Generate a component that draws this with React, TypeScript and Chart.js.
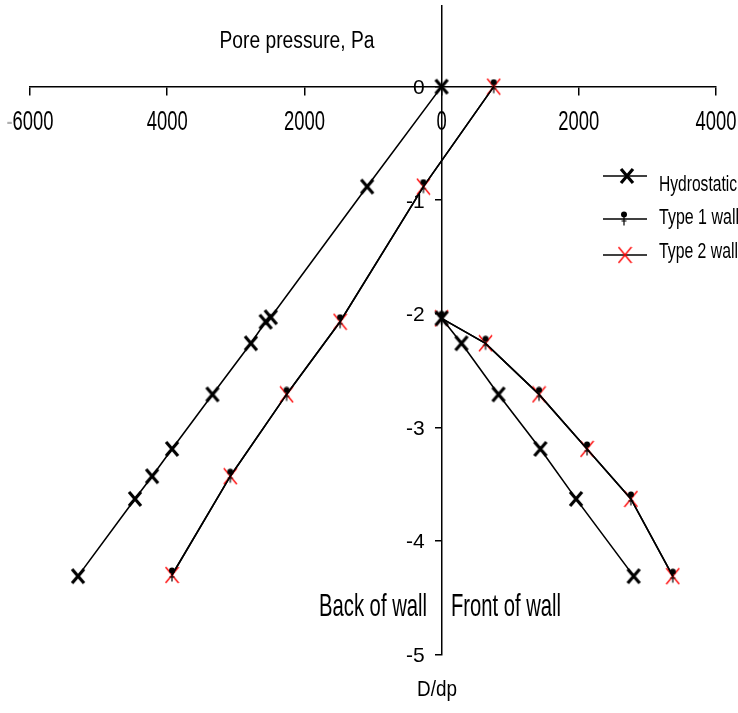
import React, { useEffect, useRef } from 'react';
import { Chart, registerables } from 'chart.js';

Chart.register(...registerables);

// ---------- data ----------
const hydroBackDepth = [0, -0.88, -2.03, -2.07, -2.26, -2.71, -3.19, -3.43, -3.63, -4.31];
const hydroBackPressure = [0, -1085, -2490, -2565, -2780, -3340, -3930, -4220, -4470, -5300];
const hydroFrontDepth = [-2.04, -2.26, -2.71, -3.19, -3.63, -4.31];
const hydroFrontPressure = [0, 290, 830, 1440, 1960, 2800];

const wallBackDepth = [0, -0.88, -2.07, -2.71, -3.43, -4.30];
const type1BackPressure = [760, -265, -1480, -2260, -3080, -3930];
const type2BackPressure = [760, -265, -1480, -2260, -3080, -3930];
const wallFrontDepth = [-2.04, -2.26, -2.71, -3.19, -3.63, -4.31];
const type1FrontPressure = [0, 640, 1420, 2120, 2760, 3370];
const type2FrontPressure = [0, 640, 1420, 2120, 2760, 3370];

const xTickValues = [-6000, -4000, -2000, 0, 2000, 4000];
const xTickLabels = ['-6000', '4000', '2000', '0', '2000', '4000'];
const yTickValues = [0, -1, -2, -3, -4, -5];
const yTickLabels = ['0', '-1', '-2', '-3', '-4', '-5'];
const legendLabels = ['Hydrostatic', 'Type 1 wall', 'Type 2 wall'];

const NARROW = "'Liberation Sans Narrow', 'Arial Narrow', 'Liberation Sans', Arial, sans-serif";
const SANS = "'Liberation Sans', Arial, sans-serif";

function pts(xs: number[], ys: number[]) {
  return xs.map((x, i) => ({ x, y: ys[i] }));
}

function makeHydroMarker() {
  const c = document.createElement('canvas');
  c.width = 16; c.height = 18;
  const g = c.getContext('2d')!;
  g.strokeStyle = '#000';
  g.lineWidth = 3.2;
  g.beginPath();
  g.moveTo(2, 2); g.lineTo(14, 16);
  g.moveTo(14, 2); g.lineTo(2, 16);
  g.stroke();
  return c;
}

function makeType1Marker() {
  const c = document.createElement('canvas');
  c.width = 8; c.height = 16;
  const g = c.getContext('2d')!;
  g.fillStyle = '#000';
  g.strokeStyle = '#000';
  g.beginPath();
  g.arc(4, 3.6, 3, 0, Math.PI * 2);
  g.fill();
  g.lineWidth = 1.2;
  g.beginPath();
  g.moveTo(4, 4); g.lineTo(4, 14.5);
  g.moveTo(1.5, 10); g.lineTo(6.5, 10);
  g.stroke();
  return c;
}

function makeType2Marker() {
  const c = document.createElement('canvas');
  c.width = 15; c.height = 18;
  const g = c.getContext('2d')!;
  g.strokeStyle = '#ff0000';
  g.lineWidth = 1.3;
  g.beginPath();
  g.moveTo(1, 1); g.lineTo(14, 17);
  g.moveTo(14, 1); g.lineTo(1, 17);
  g.stroke();
  return c;
}

function fitText(ctx: CanvasRenderingContext2D, text: string, x: number, y: number, size: number, width: number, align: CanvasTextAlign, family = NARROW) {
  ctx.save();
  ctx.font = `${size}px ${family}`;
  ctx.textAlign = align;
  ctx.textBaseline = 'middle';
  const w = ctx.measureText(text).width;
  const sx = w > 0 ? width / w : 1;
  ctx.translate(x, y);
  ctx.scale(sx, 1);
  ctx.fillStyle = '#000';
  ctx.fillText(text, 0, 0);
  ctx.restore();
}

export default function App() {
  const ref = useRef<HTMLCanvasElement | null>(null);

  useEffect(() => {
    document.body.style.margin = '0';
    const canvas = ref.current;
    if (!canvas) return;
    const hydroM = makeHydroMarker();
    const t1M = makeType1Marker();
    const t2M = makeType2Marker();

    const overlay = {
      id: 'overlay',
      afterDraw(chart: any) {
        const ctx: CanvasRenderingContext2D = chart.ctx;
        const xs = chart.scales.x;
        const ys = chart.scales.y;
        const axisY = ys.getPixelForValue(0);
        const axisX = xs.getPixelForValue(0);

        // x tick labels (absolute values, condensed)
        ctx.save();
        ctx.font = `27px ${NARROW}`;
        const sx = 41 / ctx.measureText('4000').width;
        ctx.textBaseline = 'middle';
        xTickValues.forEach((v, i) => {
          const px = xs.getPixelForValue(v);
          const lab = xTickLabels[i];
          ctx.save();
          ctx.translate(px, axisY + 36);
          ctx.scale(sx, 1);
          if (lab.startsWith('-')) {
            const full = ctx.measureText(lab).width;
            const dash = ctx.measureText('-').width;
            ctx.textAlign = 'left';
            ctx.fillStyle = '#b0b0b0';
            ctx.fillText('-', -full / 2, 0);
            ctx.fillStyle = '#000';
            ctx.fillText(lab.slice(1), -full / 2 + dash, 0);
          } else {
            ctx.textAlign = 'center';
            ctx.fillStyle = '#000';
            ctx.fillText(lab, 0, 0);
          }
          ctx.restore();
        });
        ctx.restore();

        // y tick labels
        ctx.save();
        ctx.font = `21px ${SANS}`;
        ctx.textAlign = 'right';
        ctx.textBaseline = 'middle';
        ctx.fillStyle = '#000';
        yTickValues.forEach((v, i) => {
          ctx.fillText(yTickLabels[i], axisX - 17, ys.getPixelForValue(v) + 1.5);
        });
        ctx.restore();

        fitText(ctx, 'Pore pressure, Pa', 297, 42, 23, 155, 'center');
        fitText(ctx, 'Back of wall', 427, 607, 32, 108, 'right');
        fitText(ctx, 'Front of wall', 451, 607, 32, 110, 'left');
        fitText(ctx, 'D/dp', 437, 690, 22, 40, 'center');

        // legend
        const rows = [
          { line: 176, text: 185, marker: hydroM, mx: 627, label: legendLabels[0], w: 78 },
          { line: 219, text: 218, marker: t1M, mx: 624, label: legendLabels[1], w: 80 },
          { line: 255, text: 252, marker: t2M, mx: 625, label: legendLabels[2], w: 79 },
        ];
        ctx.save();
        for (const r of rows) {
          ctx.strokeStyle = '#000';
          ctx.lineWidth = 1.6;
          ctx.beginPath();
          ctx.moveTo(603, r.line);
          ctx.lineTo(647, r.line);
          ctx.stroke();
          ctx.drawImage(r.marker, r.mx - r.marker.width / 2, r.line - r.marker.height / 2);
          fitText(ctx, r.label, 659, r.text, 22, r.w, 'left');
        }
        ctx.restore();
      },
    };

    const lineStyle = { showLine: true, borderColor: '#000', borderWidth: 1.6, fill: false, tension: 0 };

    const chart = new Chart(canvas, {
      type: 'scatter',
      data: {
        datasets: [
          { label: legendLabels[0], data: pts(hydroBackPressure, hydroBackDepth), pointStyle: hydroM as any, ...lineStyle },
          { label: legendLabels[0] + ' front', data: pts(hydroFrontPressure, hydroFrontDepth), pointStyle: hydroM as any, ...lineStyle },
          { label: legendLabels[1], data: pts(type1BackPressure, wallBackDepth), pointStyle: t1M as any, ...lineStyle },
          { label: legendLabels[1] + ' front', data: pts(type1FrontPressure, wallFrontDepth), pointStyle: t1M as any, ...lineStyle },
          { label: legendLabels[2], data: pts(type2BackPressure, wallBackDepth), pointStyle: t2M as any, ...lineStyle },
          { label: legendLabels[2] + ' front', data: pts(type2FrontPressure, wallFrontDepth), pointStyle: t2M as any, ...lineStyle },
        ],
      },
      options: {
        responsive: false,
        animation: false,
        layout: { padding: { left: 30, right: 22, top: 6, bottom: 58.5 } },
        plugins: { legend: { display: false }, tooltip: { enabled: false } },
        scales: {
          x: {
            type: 'linear',
            position: { y: 0 } as any,
            min: -6000,
            max: 4000,
            afterBuildTicks: (s: any) => { s.ticks = xTickValues.map((v) => ({ value: v })); },
            afterFit: (s: any) => { s.paddingLeft = 0; s.paddingRight = 0; s.paddingTop = 0; s.paddingBottom = 0; },
            grid: { drawOnChartArea: false, drawTicks: true, tickLength: 8, color: '#000', lineWidth: 1.5 },
            border: { display: true, color: '#000', width: 1.5 },
            ticks: { display: false, autoSkip: false },
          },
          y: {
            type: 'linear',
            position: { x: 0 } as any,
            min: -5,
            max: 0.71,
            afterBuildTicks: (s: any) => { s.ticks = yTickValues.map((v) => ({ value: v })); },
            afterFit: (s: any) => { s.paddingLeft = 0; s.paddingRight = 0; s.paddingTop = 0; s.paddingBottom = 0; },
            grid: { drawOnChartArea: false, drawTicks: true, tickLength: 6, color: '#000', lineWidth: 1.5 },
            border: { display: true, color: '#000', width: 1.5 },
            ticks: { display: false, autoSkip: false },
          },
        },
      },
      plugins: [overlay],
    });
    return () => chart.destroy();
  }, []);

  return (
    <div style={{ width: 738, height: 713, position: 'relative' }}>
      <canvas ref={ref} width={738} height={713} style={{ display: 'block', width: 738, height: 713 }} />
    </div>
  );
}
